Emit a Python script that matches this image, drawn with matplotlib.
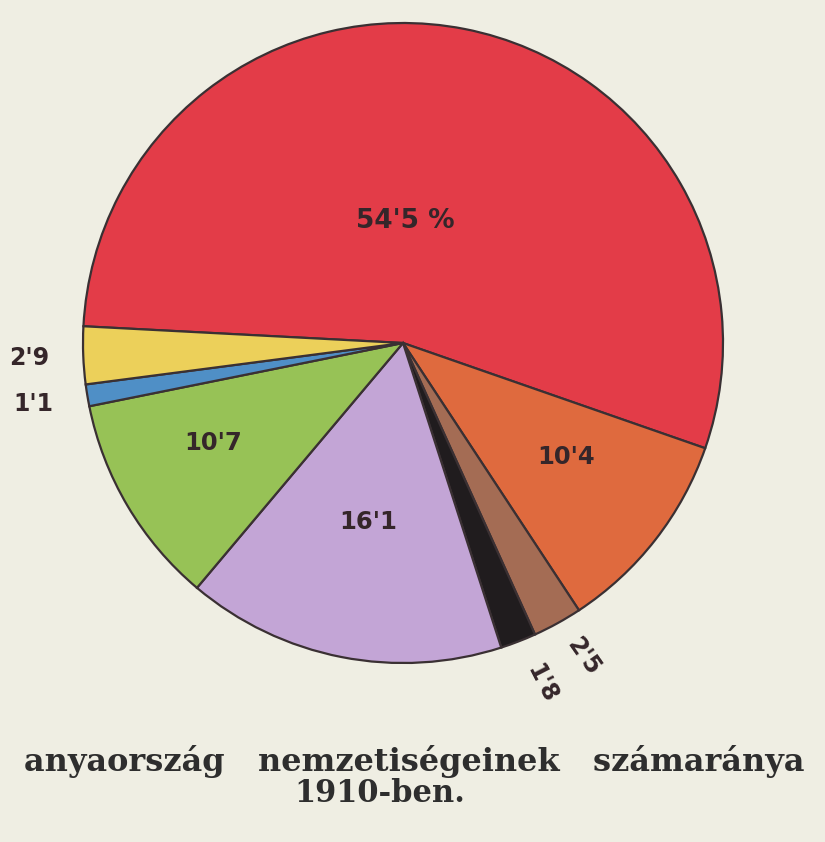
import matplotlib
matplotlib.use("Agg")
import matplotlib.pyplot as plt
import numpy as np

# Data: share of nationalities, 1910 (%)
values = [54.5, 10.4, 2.5, 1.8, 16.1, 10.7, 1.1, 2.9]
labels = ["54'5 %", "10'4", "2'5", "1'8", "16'1", "10'7", "1'1", "2'9"]
colors = ["#e33c48", "#df6a3e", "#a46c54", "#201c1e", "#c3a5d6", "#97c256", "#4f8fc6", "#ecd05a"]

# label placement: radius fraction, angle offset (deg), rotate along radius?
label_r = [0.38, 0.62, 1.13, 1.15, 0.57, 0.67, 1.17, 1.17]
label_da = [10, 3, 1, 1, 0, -3, 0, 0]
label_rot = [False, False, True, True, False, False, False, False]
label_fs = [19, 17.5, 17, 17, 17.5, 17.5, 17, 17]

BG = "#efeee3"
W, H = 825, 842
fig = plt.figure(figsize=(W / 100, H / 100), dpi=100, facecolor=BG)
ax = fig.add_axes([0, 0, 1, 1])

cx, cy, R = 403, H - 343, 320
start = 177
wedges, _ = ax.pie(values, colors=colors, startangle=start, counterclock=False,
                   center=(cx, cy), radius=R, frame=True,
                   wedgeprops=dict(edgecolor="#3a3033", linewidth=1.6))
ax.set_xlim(0, W)
ax.set_ylim(0, H)
ax.set_aspect("equal")
ax.axis("off")

for w, lab, r, da, rot, fs in zip(wedges, labels, label_r, label_da, label_rot, label_fs):
    mid = (w.theta1 + w.theta2) / 2 + da
    x = cx + r * R * np.cos(np.radians(mid))
    y = cy + r * R * np.sin(np.radians(mid))
    ax.text(x, y, lab, ha="center", va="center", fontsize=fs,
            fontweight="bold", color="#35262a", rotation=mid + 5 if rot else 0,
            family="DejaVu Sans")

fig.text(414 / W, 1 - 762 / H, "anyaország   nemzetiségeinek   számaránya",
         ha="center", va="center", fontsize=23, fontweight="bold",
         family="DejaVu Serif", color="#2e2e2e")
fig.text(380 / W, 1 - 793 / H, "1910-ben.", ha="center", va="center",
         fontsize=22, fontweight="bold", family="DejaVu Serif", color="#2e2e2e")

fig.savefig("out.png", dpi=100, facecolor=BG)
